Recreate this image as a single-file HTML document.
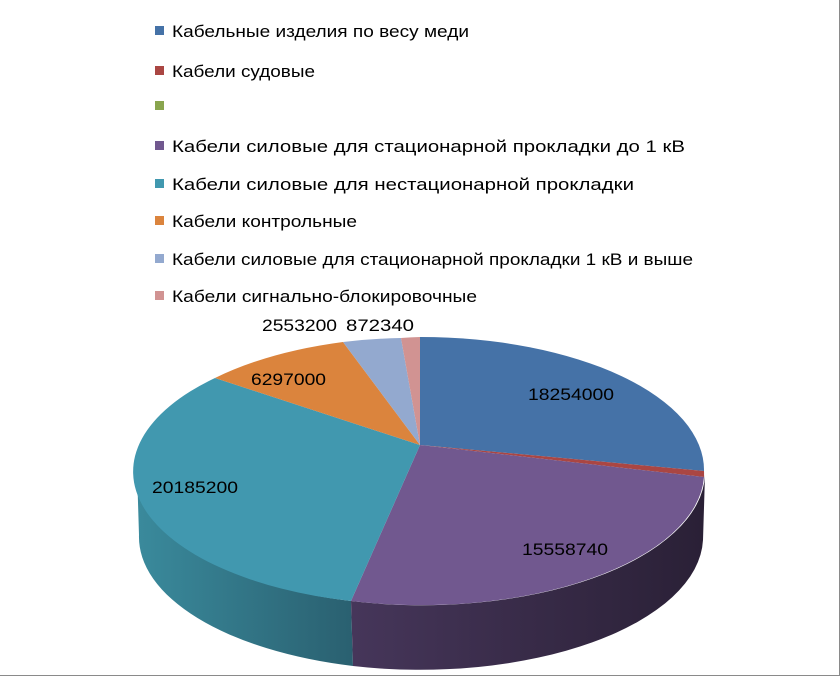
<!DOCTYPE html>
<html><head><meta charset="utf-8"><style>
html,body{margin:0;padding:0;background:#fff}
body{width:840px;height:676px;overflow:hidden}
svg text{font-family:"Liberation Sans","DejaVu Sans",sans-serif;font-size:17px;fill:#000}
</style></head><body>
<svg width="840" height="676" viewBox="0 0 840 676">
<defs>
<linearGradient id="gt" x1="0" x2="1" y1="0" y2="0">
<stop offset="0" stop-color="#3a8a9c"/><stop offset="1" stop-color="#2a6070"/></linearGradient>
<linearGradient id="gp" x1="0" x2="1" y1="0" y2="0">
<stop offset="0" stop-color="#46365a"/><stop offset="1" stop-color="#2a2036"/></linearGradient>
</defs>
<rect x="0" y="0" width="839" height="675" fill="#fff"/>
<line x1="839.5" y1="0" x2="839.5" y2="676" stroke="#8a8a8a"/>
<line x1="0" y1="675.5" x2="840" y2="675.5" stroke="#8a8a8a"/>
<g>
<rect x="155" y="26" width="9" height="9" fill="#4572a7"/><text x="172" y="37" textLength="297" lengthAdjust="spacingAndGlyphs">Кабельные изделия по весу меди</text>
<rect x="155" y="66" width="9" height="9" fill="#aa4643"/><text x="172" y="77" textLength="143" lengthAdjust="spacingAndGlyphs">Кабели судовые</text>
<rect x="155" y="101" width="9" height="9" fill="#89a54e"/>
<rect x="155" y="141" width="9" height="9" fill="#71588f"/><text x="172" y="152" textLength="513" lengthAdjust="spacingAndGlyphs">Кабели силовые для стационарной прокладки до 1 кВ</text>
<rect x="155" y="179" width="9" height="9" fill="#4198af"/><text x="172" y="190" textLength="462" lengthAdjust="spacingAndGlyphs">Кабели силовые для нестационарной прокладки</text>
<rect x="155" y="216" width="9" height="9" fill="#db843d"/><text x="172" y="227" textLength="185" lengthAdjust="spacingAndGlyphs">Кабели контрольные</text>
<rect x="155" y="254" width="9" height="9" fill="#93a9cf"/><text x="172" y="265" textLength="521" lengthAdjust="spacingAndGlyphs">Кабели силовые для стационарной прокладки 1 кВ и выше</text>
<rect x="155" y="291" width="9" height="9" fill="#d19392"/><text x="172" y="302" textLength="305" lengthAdjust="spacingAndGlyphs">Кабели сигнально-блокировочные</text>
</g>
<path d="M137,470 A283,133 0 0 0 351,601 L353,666 A283,133 0 0 1 139,535 Z" fill="url(#gt)"/>
<path d="M351,601 A283,133 0 0 0 705,475 L703,540 A283,133 0 0 1 353,666 Z" fill="url(#gp)"/>
<path d="M420,445 L420,337 A283,133 0 0 1 704,471 Z" fill="#4572a7"/>
<path d="M420,445 L704,471 A283,133 0 0 1 704,477 Z" fill="#aa4643"/>
<path d="M420,445 L704,477 A283,133 0 0 1 351,601 Z" fill="#71588f"/>
<path d="M420,445 L351,601 A283,133 0 0 1 215,378 Z" fill="#4198af"/>
<path d="M420,445 L215,378 A283,133 0 0 1 343,342 Z" fill="#db843d"/>
<path d="M420,445 L343,342 A283,133 0 0 1 401,338 Z" fill="#93a9cf"/>
<path d="M420,445 L401,338 A283,133 0 0 1 420,337 Z" fill="#d19392"/>
<text x="528" y="400" textLength="86" lengthAdjust="spacingAndGlyphs">18254000</text>
<text x="522" y="555" textLength="86" lengthAdjust="spacingAndGlyphs">15558740</text>
<text x="152" y="493" textLength="86" lengthAdjust="spacingAndGlyphs">20185200</text>
<text x="251" y="385" textLength="75" lengthAdjust="spacingAndGlyphs">6297000</text>
<text x="262" y="331" textLength="75" lengthAdjust="spacingAndGlyphs">2553200</text>
<text x="346" y="331" textLength="68" lengthAdjust="spacingAndGlyphs">872340</text>
</svg>
</body></html>
